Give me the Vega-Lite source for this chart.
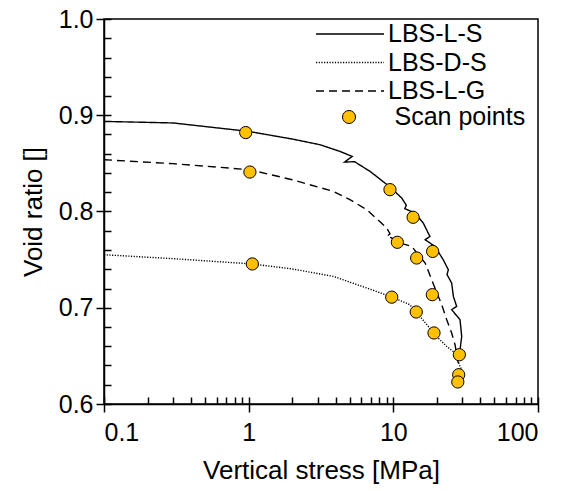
{
  "$schema": "https://vega.github.io/schema/vega-lite/v6.json",
  "width": 434,
  "height": 385,
  "autosize": {"type": "none"},
  "padding": {"left": 104, "top": 19, "right": 36, "bottom": 87},
  "background": "white",
  "config": {
    "font": "Liberation Sans",
    "view": {"stroke": "black", "strokeWidth": 1.5},
    "axis": {"grid": false, "labelColor": "black", "titleColor": "black", "tickColor": "black", "domainColor": "black", "tickWidth": 1.5, "domainWidth": 1.5, "labelFont": "Liberation Sans", "titleFont": "Liberation Sans", "labelFontSize": 25, "titleFontSize": 26, "titleFontWeight": "normal"},
    "legend": {"labelFont": "Liberation Sans", "labelFontSize": 25, "labelColor": "black", "labelLimit": 400}
  },
  "datasets": {
    "curves": [
      {"series": "LBS-L-S", "i": 1, "x": 0.1, "y": 0.8936},
      {"series": "LBS-L-S", "i": 2, "x": 0.3, "y": 0.892},
      {"series": "LBS-L-S", "i": 3, "x": 1.0, "y": 0.8832},
      {"series": "LBS-L-S", "i": 4, "x": 2.0, "y": 0.8753},
      {"series": "LBS-L-S", "i": 5, "x": 3.11, "y": 0.8694},
      {"series": "LBS-L-S", "i": 6, "x": 4.28, "y": 0.8624},
      {"series": "LBS-L-S", "i": 7, "x": 5.2, "y": 0.8572},
      {"series": "LBS-L-S", "i": 8, "x": 4.6, "y": 0.8514},
      {"series": "LBS-L-S", "i": 9, "x": 5.4, "y": 0.8517},
      {"series": "LBS-L-S", "i": 10, "x": 6.9, "y": 0.8417},
      {"series": "LBS-L-S", "i": 11, "x": 9.48, "y": 0.8255},
      {"series": "LBS-L-S", "i": 12, "x": 11.42, "y": 0.814},
      {"series": "LBS-L-S", "i": 13, "x": 12.3, "y": 0.8065},
      {"series": "LBS-L-S", "i": 14, "x": 12.0, "y": 0.803},
      {"series": "LBS-L-S", "i": 15, "x": 14.1, "y": 0.7984},
      {"series": "LBS-L-S", "i": 16, "x": 16.1, "y": 0.788},
      {"series": "LBS-L-S", "i": 17, "x": 17.9, "y": 0.7741},
      {"series": "LBS-L-S", "i": 18, "x": 16.6, "y": 0.7707},
      {"series": "LBS-L-S", "i": 19, "x": 19.4, "y": 0.7637},
      {"series": "LBS-L-S", "i": 20, "x": 22.1, "y": 0.75},
      {"series": "LBS-L-S", "i": 21, "x": 24.0, "y": 0.7395},
      {"series": "LBS-L-S", "i": 22, "x": 23.5, "y": 0.7345},
      {"series": "LBS-L-S", "i": 23, "x": 25.3, "y": 0.7257},
      {"series": "LBS-L-S", "i": 24, "x": 26.0, "y": 0.7118},
      {"series": "LBS-L-S", "i": 25, "x": 27.4, "y": 0.7014},
      {"series": "LBS-L-S", "i": 26, "x": 25.3, "y": 0.698},
      {"series": "LBS-L-S", "i": 27, "x": 28.9, "y": 0.6876},
      {"series": "LBS-L-S", "i": 28, "x": 29.7, "y": 0.6702},
      {"series": "LBS-L-S", "i": 29, "x": 28.9, "y": 0.6564},
      {"series": "LBS-L-S", "i": 30, "x": 28.6, "y": 0.6512},
      {"series": "LBS-D-S", "i": 1, "x": 0.1, "y": 0.7551},
      {"series": "LBS-D-S", "i": 2, "x": 0.3, "y": 0.751},
      {"series": "LBS-D-S", "i": 3, "x": 1.06, "y": 0.7455},
      {"series": "LBS-D-S", "i": 4, "x": 2.0, "y": 0.7403},
      {"series": "LBS-D-S", "i": 5, "x": 3.85, "y": 0.7326},
      {"series": "LBS-D-S", "i": 6, "x": 6.55, "y": 0.7205},
      {"series": "LBS-D-S", "i": 7, "x": 9.75, "y": 0.7112},
      {"series": "LBS-D-S", "i": 8, "x": 13.0, "y": 0.7032},
      {"series": "LBS-D-S", "i": 9, "x": 15.3, "y": 0.691},
      {"series": "LBS-D-S", "i": 10, "x": 19.9, "y": 0.6702},
      {"series": "LBS-D-S", "i": 11, "x": 23.4, "y": 0.6598},
      {"series": "LBS-D-S", "i": 12, "x": 26.7, "y": 0.653},
      {"series": "LBS-D-S", "i": 13, "x": 28.9, "y": 0.639},
      {"series": "LBS-D-S", "i": 14, "x": 29.7, "y": 0.6356},
      {"series": "LBS-L-G", "i": 1, "x": 0.1, "y": 0.8538},
      {"series": "LBS-L-G", "i": 2, "x": 0.3, "y": 0.8497},
      {"series": "LBS-L-G", "i": 3, "x": 1.02, "y": 0.8434},
      {"series": "LBS-L-G", "i": 4, "x": 2.0, "y": 0.833},
      {"series": "LBS-L-G", "i": 5, "x": 3.85, "y": 0.8209},
      {"series": "LBS-L-G", "i": 6, "x": 5.01, "y": 0.8123},
      {"series": "LBS-L-G", "i": 7, "x": 6.55, "y": 0.8019},
      {"series": "LBS-L-G", "i": 8, "x": 9.0, "y": 0.7829},
      {"series": "LBS-L-G", "i": 9, "x": 9.48, "y": 0.7769},
      {"series": "LBS-L-G", "i": 10, "x": 9.0, "y": 0.7741},
      {"series": "LBS-L-G", "i": 11, "x": 9.75, "y": 0.7725},
      {"series": "LBS-L-G", "i": 12, "x": 10.66, "y": 0.768},
      {"series": "LBS-L-G", "i": 13, "x": 13.4, "y": 0.7637},
      {"series": "LBS-L-G", "i": 14, "x": 16.6, "y": 0.7465},
      {"series": "LBS-L-G", "i": 15, "x": 18.4, "y": 0.7291},
      {"series": "LBS-L-G", "i": 16, "x": 21.6, "y": 0.7032},
      {"series": "LBS-L-G", "i": 17, "x": 23.4, "y": 0.6876},
      {"series": "LBS-L-G", "i": 18, "x": 25.3, "y": 0.6738},
      {"series": "LBS-L-G", "i": 19, "x": 26.7, "y": 0.6616},
      {"series": "LBS-L-G", "i": 20, "x": 28.1, "y": 0.6426},
      {"series": "LBS-L-G", "i": 21, "x": 28.4, "y": 0.6287}
    ],
    "scans": [
      {"kind": "Scan points", "x": 0.954, "y": 0.882},
      {"kind": "Scan points", "x": 1.02, "y": 0.841},
      {"kind": "Scan points", "x": 1.06, "y": 0.7455},
      {"kind": "Scan points", "x": 9.48, "y": 0.8227},
      {"kind": "Scan points", "x": 13.7, "y": 0.794},
      {"kind": "Scan points", "x": 18.7, "y": 0.7585},
      {"kind": "Scan points", "x": 10.66, "y": 0.768},
      {"kind": "Scan points", "x": 14.5, "y": 0.7517},
      {"kind": "Scan points", "x": 18.6, "y": 0.7136},
      {"kind": "Scan points", "x": 9.75, "y": 0.711},
      {"kind": "Scan points", "x": 14.4, "y": 0.6956},
      {"kind": "Scan points", "x": 19.1, "y": 0.6738},
      {"kind": "Scan points", "x": 28.6, "y": 0.6512},
      {"kind": "Scan points", "x": 28.3, "y": 0.6304},
      {"kind": "Scan points", "x": 27.9, "y": 0.6229}
    ]
  },
  "layer": [
    {
      "data": {"name": "curves"},
      "mark": {"type": "line", "color": "black", "strokeWidth": 1.4, "clip": true},
      "encoding": {
        "x": {
          "field": "x", "type": "quantitative",
          "scale": {"type": "log", "domain": [0.1, 100]},
          "axis": {"orient": "bottom", "values": [0.1, 1, 10, 100], "tickSize": 8, "labelPadding": 8, "labelExpr": "datum.value", "title": "Vertical stress [MPa]", "titlePadding": 12}
        },
        "y": {
          "field": "y", "type": "quantitative",
          "scale": {"domain": [0.6, 1.0]},
          "axis": {"orient": "left", "values": [0.6, 0.7, 0.8, 0.9, 1.0], "format": ".1f", "tickSize": 8, "labelPadding": 3, "title": "Void ratio []", "titlePadding": 12}
        },
        "strokeDash": {
          "field": "series", "type": "nominal",
          "scale": {"domain": ["LBS-L-S", "LBS-D-S", "LBS-L-G"], "range": [[1, 0], [1.2, 1.5], [8, 5]]},
          "legend": {"orient": "none", "legendX": 211, "legendY": 1, "title": null, "symbolType": "stroke", "symbolSize": 4624, "symbolStrokeWidth": 1.4, "symbolStrokeColor": "black", "clipHeight": 28, "rowPadding": 0.5, "labelOffset": 3, "padding": 0}
        },
        "order": {"field": "i", "type": "quantitative"}
      }
    },
    {
      "data": {"name": "scans"},
      "mark": {"type": "point", "shape": "circle", "filled": true, "size": 150, "stroke": "black", "strokeWidth": 1, "opacity": 1},
      "encoding": {
        "x": {
          "field": "x", "type": "quantitative",
          "scale": {"type": "log", "domain": [0.1, 100]},
          "axis": {"orient": "bottom", "values": [0.1, 0.2, 0.3, 0.4, 0.5, 0.6, 0.7, 0.8, 0.9, 1, 2, 3, 4, 5, 6, 7, 8, 9, 10, 20, 30, 40, 50, 60, 70, 80, 90, 100], "tickSize": -7, "labels": false, "domain": false, "title": null}
        },
        "y": {
          "field": "y", "type": "quantitative",
          "scale": {"domain": [0.6, 1.0]},
          "axis": {"orient": "left", "values": [0.6, 0.62, 0.64, 0.66, 0.68, 0.7, 0.72, 0.74, 0.76, 0.78, 0.8, 0.82, 0.84, 0.86, 0.88, 0.9, 0.92, 0.94, 0.96, 0.98, 1.0], "tickSize": -7, "labels": false, "domain": false, "title": null}
        },
        "fill": {
          "field": "kind", "type": "nominal",
          "scale": {"domain": ["Scan points"], "range": ["#FFC000"]},
          "legend": {"orient": "none", "legendX": 232.5, "legendY": 84, "title": null, "symbolType": "circle", "symbolSize": 169, "symbolStrokeColor": "black", "symbolStrokeWidth": 1, "symbolOpacity": 1, "clipHeight": 28, "labelOffset": 33, "padding": 0}
        }
      }
    }
  ],
  "resolve": {"axis": {"x": "independent", "y": "independent"}}
}
